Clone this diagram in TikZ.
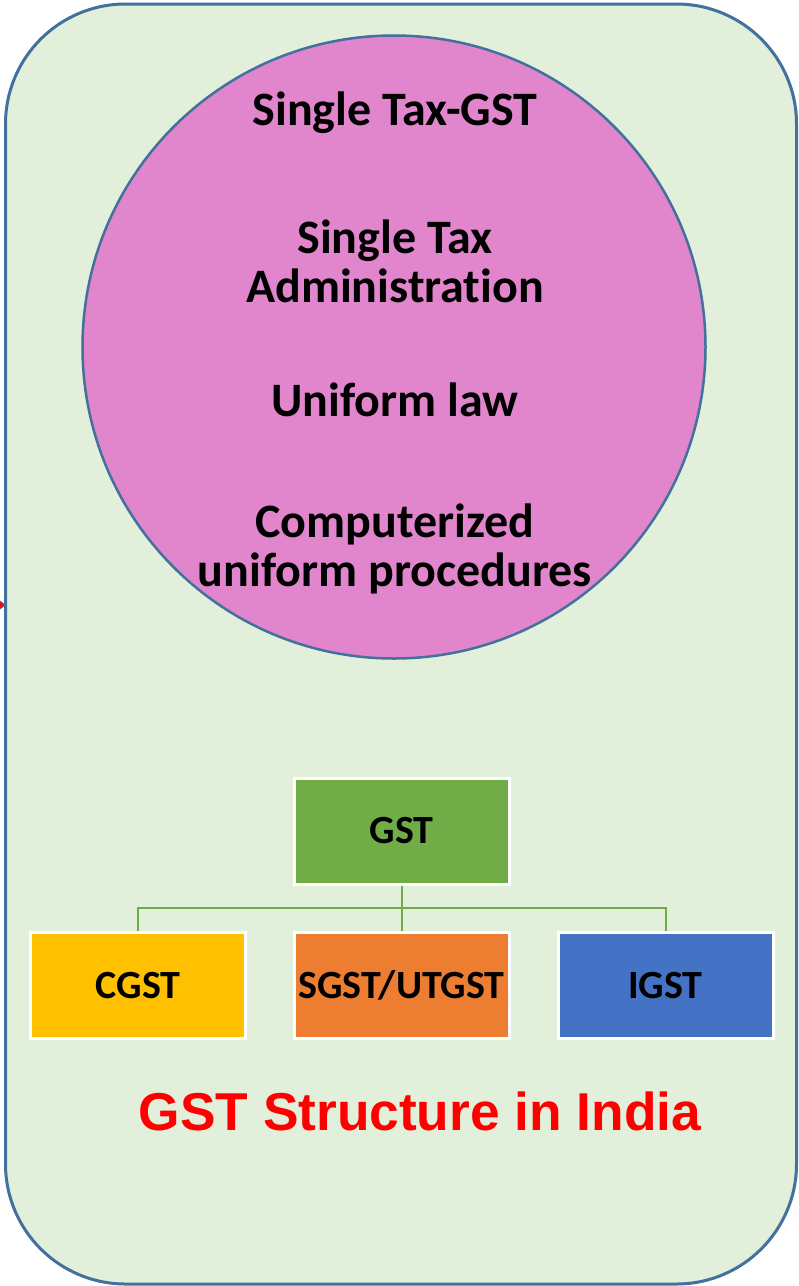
\documentclass[tikz,border=0pt]{standalone}
\usepackage{fontspec}
\setmainfont[Ligatures={NoCommon}]{Carlito}
\newfontfamily\arialbf{Liberation Sans}
\definecolor{bgfill}{HTML}{E2EFDA}
\definecolor{edgeblue}{HTML}{41719C}
\definecolor{pinkfill}{HTML}{E186CC}
\definecolor{gstgreen}{HTML}{70AD47}
\definecolor{cgstyellow}{HTML}{FFC000}
\definecolor{sgstorange}{HTML}{ED7D31}
\definecolor{igstblue}{HTML}{4472C4}
\definecolor{titlered}{HTML}{FF0000}
\tikzset{
  x=1pt, y=-1pt,
  circtext/.style={font=\fontsize{48}{49}\selectfont\bfseries, align=center, text=black},
  taxbox/.style={draw=white, line width=3pt, minimum width=215pt, minimum height=106pt, font=\fontsize{40}{44}\selectfont\bfseries, text=black, inner sep=0pt},
  treeline/.style={draw=gstgreen, line width=2pt}
}
\begin{document}
\begin{tikzpicture}
\useasboundingbox (0,0) rectangle (799,1286);
% outer rounded panel
\node[draw=edgeblue, line width=3pt, fill=bgfill, rounded corners=120pt, minimum width=791pt, minimum height=1280pt, inner sep=0pt] (panel) at (401,644) {};
% small mark at the left edge
\fill[titlered, draw=edgeblue, line width=1pt] (-4,598) -- (5,605) -- (-4,612) -- cycle;
% circle
\node[circle, draw=edgeblue, line width=2.5pt, fill=pinkfill, minimum size=623pt, inner sep=0pt] (circ) at (394,347) {};
\node[circtext] (t1) at (395,113) {Single Tax-GST};
\node[circtext] (t2) at (395,261) {Single Tax\\Administration};
\node[circtext] (t3) at (395,400) {Uniform law};
\node[circtext] (t4) at (395,549) {Computerized\\uniform procedures};
% tree
\node[taxbox, fill=gstgreen] (gst) at (401.5,831) {GST};
\node[taxbox, fill=cgstyellow] (cgst) at (138,985.5) {CGST};
\node[taxbox, fill=sgstorange] (sgst) at (401.5,985.5) {SGST/UTGST};
\node[taxbox, fill=igstblue] (igst) at (665.5,985.5) {IGST};
\coordinate (bar) at (401.5,908);
\draw[treeline] (gst.south) -- (bar);
\draw[treeline] (bar) -- (sgst.north);
\draw[treeline] (cgst.north) |- (bar) -| (igst.north);
% title
\node[font=\arialbf\fontsize{53.3}{60}\selectfont\bfseries, text=titlered] (title) at (420,1111) {GST Structure in India};
\end{tikzpicture}
\end{document}
